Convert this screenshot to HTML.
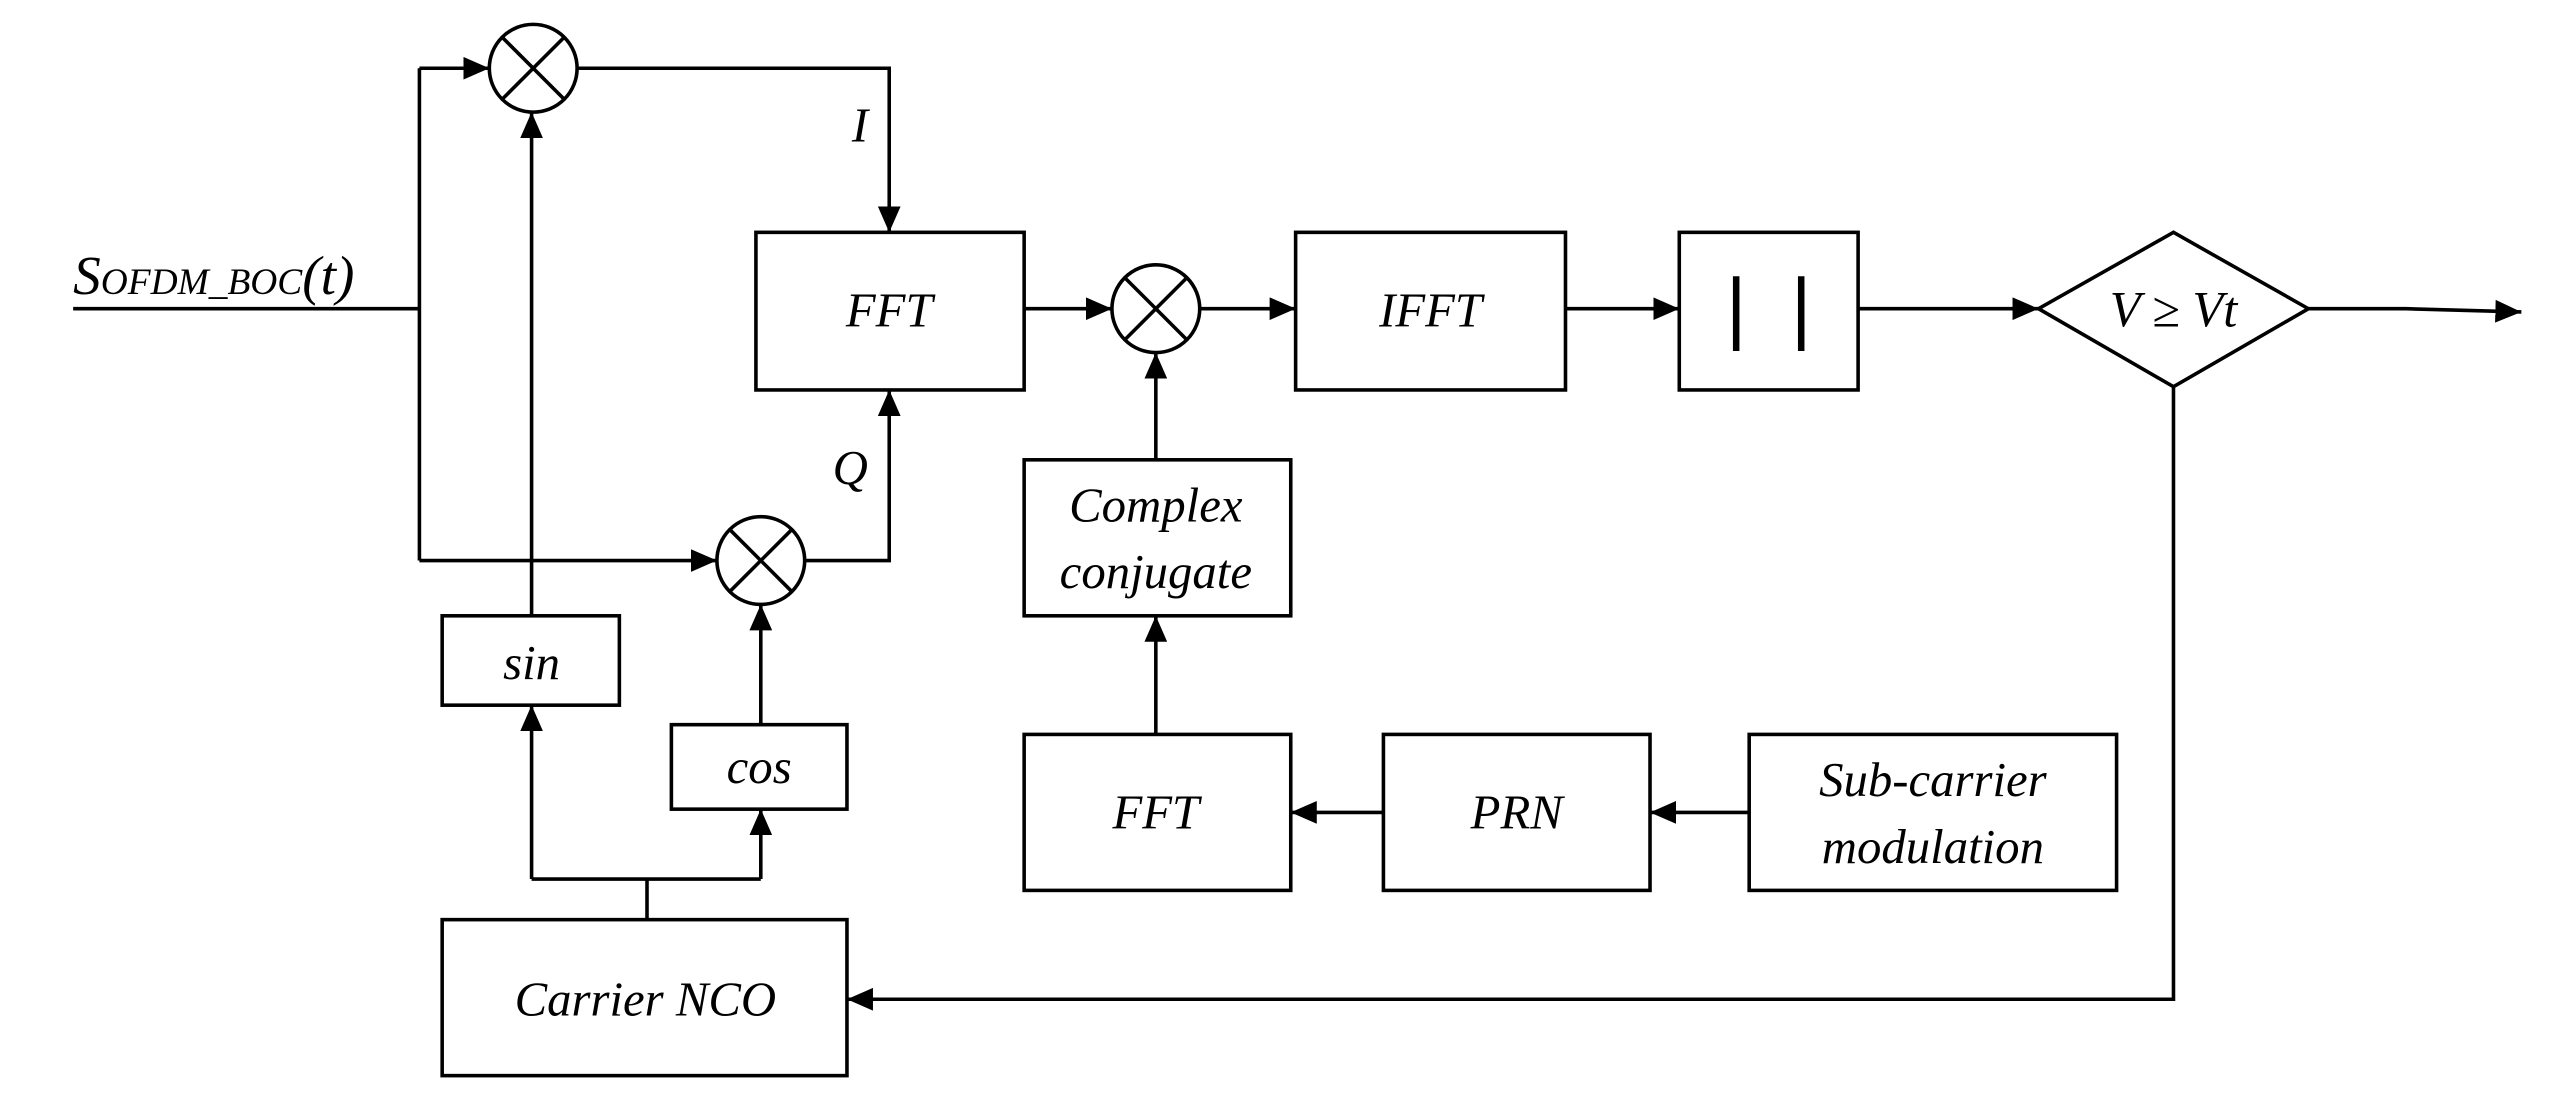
<!DOCTYPE html>
<html><head><meta charset="utf-8"><style>
html,body{margin:0;padding:0;background:#fff;}
svg{display:block;}
text{font-family:"Liberation Serif",serif;font-style:italic;fill:#000;}
</style></head><body>
<svg width="2549" height="1113" viewBox="0 0 1568 685" preserveAspectRatio="none" xmlns="http://www.w3.org/2000/svg">
<defs>
<marker id="b" markerWidth="16" markerHeight="14" refX="16" refY="7" orient="auto" markerUnits="userSpaceOnUse" viewBox="0 0 16 14">
<path d="M0,0 L16,7 L0,14 z" fill="#000"/></marker>
</defs>
<g stroke="#000" stroke-width="2.2" fill="none">
<line x1="45" y1="190" x2="258" y2="190"/>
<line x1="258" y1="42" x2="258" y2="345"/>
<line x1="258" y1="42" x2="301" y2="42" marker-end="url(#b)"/>
<line x1="258" y1="345" x2="441" y2="345" marker-end="url(#b)"/>
<circle cx="328" cy="42" r="27"/><line x1="309" y1="23" x2="347" y2="61"/><line x1="347" y1="23" x2="309" y2="61"/>
<circle cx="468" cy="345" r="27"/><line x1="449" y1="326" x2="487" y2="364"/><line x1="487" y1="326" x2="449" y2="364"/>
<circle cx="711" cy="190" r="27"/><line x1="692" y1="171" x2="730" y2="209"/><line x1="730" y1="171" x2="692" y2="209"/>
<polyline points="355,42 547,42 547,143" marker-end="url(#b)"/>
<polyline points="495,345 547,345 547,240" marker-end="url(#b)"/>
<rect x="272" y="379" width="109" height="55"/>
<rect x="413" y="446" width="108" height="52"/>
<line x1="327" y1="379" x2="327" y2="69" marker-end="url(#b)"/>
<line x1="468" y1="446" x2="468" y2="372" marker-end="url(#b)"/>
<rect x="272" y="566" width="249" height="96"/>
<line x1="398" y1="566" x2="398" y2="541"/>
<line x1="327" y1="541" x2="468" y2="541"/>
<line x1="327" y1="541" x2="327" y2="434" marker-end="url(#b)"/>
<line x1="468" y1="541" x2="468" y2="498" marker-end="url(#b)"/>
<rect x="465" y="143" width="165" height="97"/>
<line x1="630" y1="190" x2="684" y2="190" marker-end="url(#b)"/>
<line x1="738" y1="190" x2="797" y2="190" marker-end="url(#b)"/>
<rect x="797" y="143" width="166" height="97"/>
<line x1="963" y1="190" x2="1033" y2="190" marker-end="url(#b)"/>
<rect x="1033" y="143" width="110" height="97"/>
<line x1="1068" y1="170" x2="1068" y2="216" stroke-width="4"/>
<line x1="1108" y1="170" x2="1108" y2="216" stroke-width="4"/>
<line x1="1143" y1="190" x2="1254" y2="190" marker-end="url(#b)"/>
<polygon points="1254,190 1337,143 1420,190 1337,238"/>
<polyline points="1420,190 1480,190 1551,192" marker-end="url(#b)"/>
<polyline points="1337,238 1337,615 521,615" marker-end="url(#b)"/>
<rect x="630" y="283" width="164" height="96"/>
<line x1="711" y1="283" x2="711" y2="217" marker-end="url(#b)"/>
<rect x="630" y="452" width="164" height="96"/>
<line x1="711" y1="452" x2="711" y2="379" marker-end="url(#b)"/>
<rect x="851" y="452" width="164" height="96"/>
<line x1="851" y1="500" x2="794" y2="500" marker-end="url(#b)"/>
<rect x="1076" y="452" width="226" height="96"/>
<line x1="1076" y1="500" x2="1015" y2="500" marker-end="url(#b)"/>
</g>
<g font-size="30" text-anchor="middle">
<text x="547" y="201">FFT</text>
<text x="880" y="201">IFFT</text>
<text x="1337" y="201" font-size="31">V ≥  Vt</text>
<text x="711" y="321">Complex</text>
<text x="711" y="362">conjugate</text>
<text x="711" y="510">FFT</text>
<text x="933" y="510">PRN</text>
<text x="1189" y="490">Sub-carrier</text>
<text x="1189" y="531">modulation</text>
<text x="327" y="418">sin</text>
<text x="467" y="482">cos</text>
<text x="397" y="625">Carrier NCO</text>
<text x="529" y="87">I</text>
<text x="523" y="298">Q</text>
</g>
<text x="45" y="181" font-size="34">S<tspan font-size="23">OFDM_BOC</tspan>(t)</text>
</svg>
</body></html>
